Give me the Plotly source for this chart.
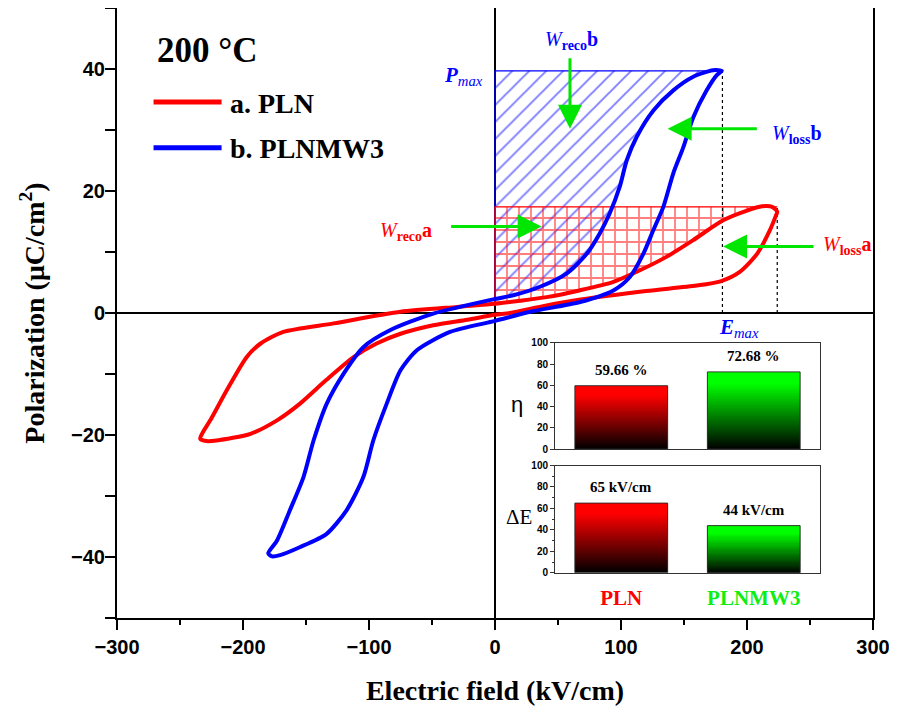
import plotly.graph_objects as go

# ---------------- data ----------------
# P-E loops traced from the +Emax tip: upper (decreasing field) branch, then lower branch
pln_E = [224, 220, 212, 200, 181, 157, 136, 115, 94, 67, 41, 20, 0, -30, -75, -128, -168, -186,
         -197, -213, -226, -232, -234, -229, -221, -194, -173, -155, -134, -112, -94, -75, -49,
         -22, 0, 12, 40, 68, 120, 160, 179, 194, 208, 218, 223, 224]
pln_P = [16.6, 17.4, 17.5, 16.8, 15.2, 11.9, 9.2, 7.0, 5.1, 3.7, 2.6, 2.0, 1.5, 1.0, 0.2, -1.7,
         -3.1, -5.0, -7.2, -12.7, -17.6, -19.6, -20.6, -21.0, -20.9, -19.8, -17.6, -14.9, -11.0,
         -7.2, -5.0, -3.4, -2.0, -1.1, -0.3, 0.0, 1.2, 2.2, 3.6, 4.5, 5.2, 6.7, 9.7, 13.5, 16.0, 16.6]

plnmw3_E = [180, 173, 157, 141.5, 125.7, 112.5, 104.5, 99, 91, 83, 72.8, 57, 35.7, 14.5, 0, -49,
            -83, -104.5, -120, -133.6, -144, -152, -162.7, -173, -180, -177, -170.6, -155, -133.6,
            -117.7, -104.5, -96.6, -86, -75, -62, -35.7, 0, 28, 67.5, 94, 107, 117.7, 125.7,
            133.6, 141.5, 149.5, 157.4, 168, 176, 180]
plnmw3_P = [39.7, 39.8, 38.7, 36.5, 33.2, 28.9, 25, 20.7, 16.3, 13, 9.7, 6.5, 4.3, 2.9, 2.3, -0.1,
            -2.8, -5.6, -9.9, -14.9, -20.9, -26.9, -32.3, -37.3, -39.4, -39.9, -39.7, -38.4,
            -36.2, -32.3, -26.9, -20.9, -14.9, -9.4, -6.1, -3.1, -1.3, 0.2, 1.8, 3.7, 5.9, 9.7,
            13.6, 17.4, 22.9, 27.2, 32.1, 36.5, 39, 39.7]

emax = [224, 180.5]      # kV/cm  (a. PLN, b. PLNMW3)
pmax = [17.4, 39.7]      # uC/cm2

materials = ["PLN", "PLNMW3"]
eta = [59.66, 72.68]          # %
delta_E = [65, 44]            # kV/cm

RED = "#FF0000"
BLUE = "#0000FF"
GREEN = "#00E600"
SERIF = "Liberation Serif"
SANS = "Liberation Sans"

fig = go.Figure()


def reco_region(E, P):
    xs, ys = [], []
    for e, p in zip(E, P):
        if e < 0:
            break
        xs.append(e)
        ys.append(p)
    return xs, ys


# hatched recoverable-energy areas
for E, P, pm, col, shape, size, sol in [
        (plnmw3_E, plnmw3_P, pmax[1], BLUE, "/", 12, 0.16),
        (pln_E, pln_P, pmax[0], RED, "+", 12, 0.28)]:
    ux, uy = reco_region(E, P)
    fig.add_trace(go.Scatter(
        x=[0, ux[0]] + ux + [0], y=[pm, pm] + uy + [pm], mode="lines",
        fill="toself", fillcolor="rgba(0,0,0,0)", line=dict(width=0),
        fillpattern=dict(shape=shape, fgcolor=col, bgcolor="rgba(0,0,0,0)",
                         size=size, solidity=sol),
        showlegend=False, hoverinfo="skip"))
    fig.add_trace(go.Scatter(
        x=[ux[0], 0, 0], y=[pm, pm, uy[-1]], mode="lines",
        line=dict(color=col, width=1.3), showlegend=False, hoverinfo="skip"))

# dotted Emax guides
for em, pm in zip(emax, pmax):
    fig.add_trace(go.Scatter(x=[em, em], y=[0, pm], mode="lines",
                             line=dict(color="black", width=1.2, dash="dot"),
                             showlegend=False, hoverinfo="skip"))

# loops
fig.add_trace(go.Scatter(x=pln_E, y=pln_P, mode="lines", name="a. PLN",
                         line=dict(color=RED, width=4, shape="spline", smoothing=0.7),
                         showlegend=False))
fig.add_trace(go.Scatter(x=plnmw3_E, y=plnmw3_P, mode="lines", name="b. PLNMW3",
                         line=dict(color=BLUE, width=4, shape="spline", smoothing=0.7),
                         showlegend=False))

# ---------------- inset bars (gradient via stacked slices) ----------------
N = 40
base_rgb = [(255, 0, 0), (0, 255, 0)]


def shade(rgb, t):
    f = min(1.0, t / 0.85)
    return "rgb(%d,%d,%d)" % (rgb[0] * f, rgb[1] * f, rgb[2] * f)


for vals, xa, ya in [(eta, "x2", "y2"), (delta_E, "x3", "y3")]:
    for k in range(N):
        top = min(k + 1.6, N)
        fig.add_trace(go.Bar(
            x=materials, y=[v * (top - k) / N for v in vals], base=[v * k / N for v in vals],
            width=0.7, marker=dict(color=[shade(c, (k + 0.5) / N) for c in base_rgb],
                                   line=dict(width=0)),
            xaxis=xa, yaxis=ya, showlegend=False, hoverinfo="skip"))
    fig.add_trace(go.Bar(
        x=materials, y=vals, width=0.7,
        marker=dict(color="rgba(0,0,0,0)", line=dict(color="rgba(40,40,40,0.9)", width=1)),
        xaxis=xa, yaxis=ya, showlegend=False))

annotations = []
for m, v in zip(materials, eta):
    annotations.append(dict(x=m, y=v, xref="x2", yref="y2", text="%.2f %%" % v,
                            showarrow=False, xanchor="center", yanchor="bottom", yshift=6,
                            font=dict(family=SERIF, size=15, color="black", weight="bold")))
for m, v in zip(materials, delta_E):
    annotations.append(dict(x=m, y=v, xref="x3", yref="y3", text="%d kV/cm" % v,
                            showarrow=False, xanchor="center", yanchor="bottom", yshift=6,
                            font=dict(family=SERIF, size=15, color="black", weight="bold")))
annotations += [
    dict(x=-0.143, y=0.42, xref="x2 domain", yref="y2 domain", text="η", showarrow=False,
         xanchor="center", yanchor="middle", font=dict(family=SANS, size=22, color="black")),
    dict(x=-0.136, y=0.52, xref="x3 domain", yref="y3 domain", text="ΔE", showarrow=False,
         xanchor="center", yanchor="middle", font=dict(family=SERIF, size=21, color="black")),
]

# ---------------- main annotations ----------------
annotations += [
    dict(x=-270, y=43, xref="x", yref="y", text="200 °C", showarrow=False, xanchor="left",
         font=dict(family=SERIF, size=35, color="black", weight="bold")),
    dict(x=-212, y=34.4, xref="x", yref="y", text="a. PLN", showarrow=False, xanchor="left",
         font=dict(family=SERIF, size=28, color="black", weight="bold")),
    dict(x=-212, y=27.0, xref="x", yref="y", text="b. PLNMW3", showarrow=False, xanchor="left",
         font=dict(family=SERIF, size=28, color="black", weight="bold")),
    dict(x=-8, y=38.8, xref="x", yref="y", text="<b><i>P</i></b><sub><i>max</i></sub>",
         showarrow=False, xanchor="right", font=dict(family=SERIF, size=21, color=BLUE)),
    dict(x=176, y=-2.4, xref="x", yref="y", text="<b><i>E</i></b><sub><i>max</i></sub>",
         showarrow=False, xanchor="left", font=dict(family=SERIF, size=21, color=BLUE)),
    dict(x=38, y=44.6, xref="x", yref="y", text="<i>W</i><sub><b>reco</b></sub><b>b</b>",
         showarrow=False, xanchor="left", font=dict(family=SERIF, size=20, color=BLUE)),
    dict(x=218, y=29.2, xref="x", yref="y", text="<i>W</i><sub><b>loss</b></sub><b>b</b>",
         showarrow=False, xanchor="left", font=dict(family=SERIF, size=20, color=BLUE)),
    dict(x=259, y=11.0, xref="x", yref="y", text="<i>W</i><sub><b>loss</b></sub><b>a</b>",
         showarrow=False, xanchor="left", font=dict(family=SERIF, size=20, color=RED)),
    dict(x=-93, y=13.4, xref="x", yref="y", text="<i>W</i><sub><b>reco</b></sub><b>a</b>",
         showarrow=False, xanchor="left", font=dict(family=SERIF, size=20, color=RED)),
]
# green arrows (head at x,y; tail at ax,ay)
for hx, hy, tx, ty in [(59.5, 30.2, 59.5, 42), (137, 30.2, 209, 30.2),
                       (181, 10.9, 254, 10.9), (37, 14.2, -36, 14.2)]:
    annotations.append(dict(x=hx, y=hy, ax=tx, ay=ty, xref="x", yref="y", axref="x", ayref="y",
                            text="", showarrow=True, arrowhead=2, arrowsize=1.6, arrowwidth=3,
                            arrowcolor=GREEN))

# legend line samples
shapes = [
    dict(type="line", xref="x", yref="y", x0=-271, x1=-217, y0=34.6, y1=34.6,
         line=dict(color=RED, width=5)),
    dict(type="line", xref="x", yref="y", x0=-271, x1=-217, y0=27.1, y1=27.1,
         line=dict(color=BLUE, width=5)),
]

tickfont_main = dict(family=SANS, size=20, color="black", weight="bold")
inset_tick = dict(family=SANS, size=10, color="black", weight="bold")

fig.update_layout(
    width=889, height=708,
    margin=dict(l=109, r=24, t=0, b=98),
    paper_bgcolor="white", plot_bgcolor="white",
    barmode="overlay",
    annotations=annotations, shapes=shapes,
    xaxis=dict(range=[-300, 300], dtick=100, showgrid=False, zeroline=True, automargin=False,
               zerolinecolor="black", zerolinewidth=2, ticklabeloverflow="allow",
               showline=True, mirror=True, linecolor="black", linewidth=2,
               ticks="outside", ticklen=10, tickwidth=2, tickcolor="black",
               minor=dict(ticks="outside", dtick=50, ticklen=5, tickwidth=2, tickcolor="black"),
               tickfont=tickfont_main,
               title=dict(text="Electric field (kV/cm)", standoff=23,
                          font=dict(family=SERIF, size=28, color="black", weight="bold"))),
    yaxis=dict(range=[-50, 50], dtick=20, showgrid=False, zeroline=True, automargin=False,
               zerolinecolor="black", zerolinewidth=2, ticklabeloverflow="allow",
               showline=True, mirror=True, linecolor="black", linewidth=2,
               ticks="outside", ticklen=10, tickwidth=2, tickcolor="black",
               minor=dict(ticks="outside", dtick=10, ticklen=10, tickwidth=2, tickcolor="black"),
               tickfont=tickfont_main, ticklabelstandoff=-4,
               title=dict(text="Polarization (μC/cm<sup>2</sup>)", standoff=18,
                          font=dict(family=SERIF, size=28, color="black", weight="bold"))),
    xaxis2=dict(domain=[0.5794, 0.9299], anchor="y2", range=[-0.5, 1.5], showgrid=False,
                automargin=False, showline=True, mirror=True, linecolor="#333", linewidth=1,
                showticklabels=False, ticks=""),
    yaxis2=dict(domain=[0.277, 0.451], anchor="x2", range=[0, 100], dtick=20, showgrid=False,
                automargin=False, zeroline=False, showline=True, mirror=True, linecolor="#333",
                linewidth=1, ticks="outside", ticklen=4, tickwidth=1, tickcolor="#333",
                tickfont=inset_tick),
    xaxis3=dict(domain=[0.5794, 0.9299], anchor="y3", range=[-0.5, 1.5], showgrid=False,
                automargin=False, showline=True, mirror=True, linecolor="#333", linewidth=1,
                ticks="", tickvals=materials,
                ticktext=['<span style="color:%s">%s</span>' % (c, m)
                          for c, m in zip([RED, "#10EE10"], materials)],
                tickfont=dict(family=SERIF, size=21, weight="bold"), ticklabelstandoff=6),
    yaxis3=dict(domain=[0.074, 0.250], anchor="x3", range=[0, 100], dtick=20, showgrid=False,
                automargin=False, zeroline=False, showline=True, mirror=True, linecolor="#333",
                linewidth=1, ticks="outside", ticklen=4, tickwidth=1, tickcolor="#333",
                tickfont=inset_tick,
                minor=dict(ticks="outside", dtick=10, ticklen=2, tickcolor="#333")),
)

fig.write_html("out.html")
